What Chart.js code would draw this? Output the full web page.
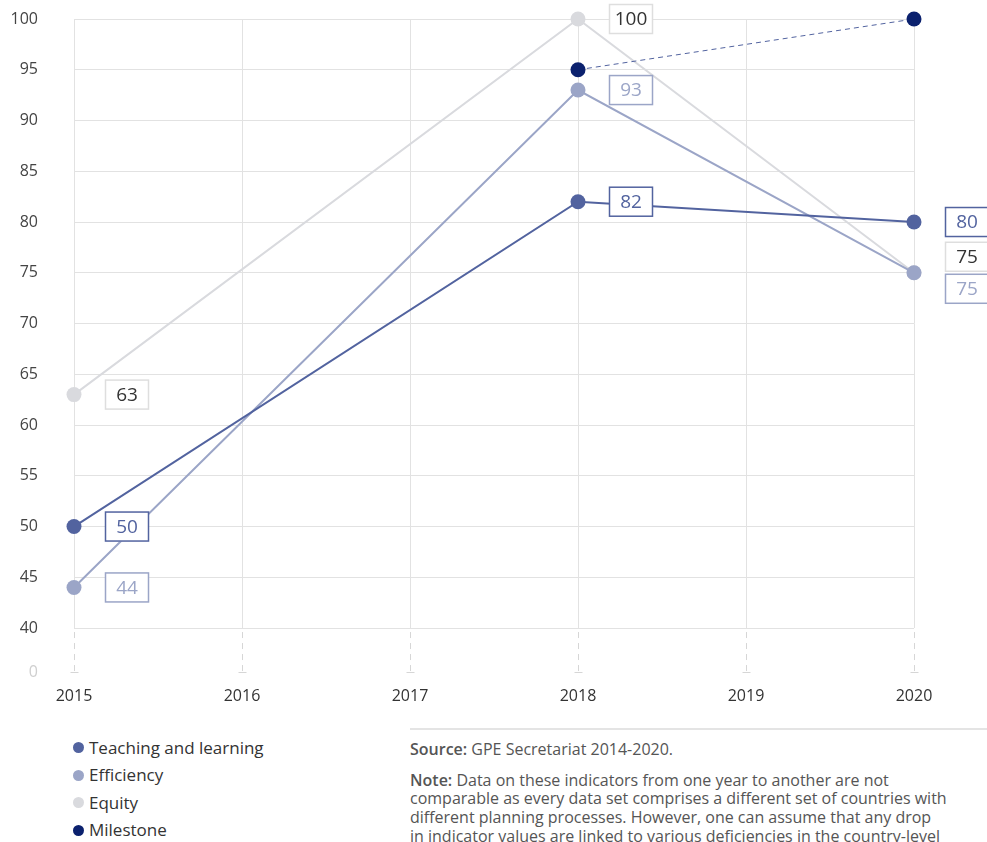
<!DOCTYPE html>
<html>
<head>
<meta charset="utf-8">
<script src="https://cdn.jsdelivr.net/npm/chart.js@4.4.1/dist/chart.umd.min.js"></script>
<style>
  html, body { margin: 0; padding: 0; background: #fff; }
  body { width: 987px; height: 842px; overflow: hidden; position: relative; font-family: "Open Sans", "DejaVu Sans", sans-serif; color: #333; }
  #chartBox { position: absolute; left: 0; top: 0; width: 987px; height: 717px; }
  #legend { position: absolute; left: 73px; top: 734px; list-style: none; margin: 0; padding: 0; font-size: 17px; color: #333; }
  #legend li { height: 27.5px; line-height: 22px; display: flex; align-items: center; }
  #legend .dot { width: 11px; height: 11px; border-radius: 50%; margin-right: 5px; display: inline-block; }
  #notes { position: absolute; left: 410px; top: 728px; width: 600px; border-top: 2px solid #e4e4e4; font-size: 16px; color: #555; }
  #notes p { margin: 0; line-height: 18.7px; white-space: nowrap; }
  #notes .src { margin-top: 10px; }
  #notes .note { margin-top: 12px; }
  #notes b { font-weight: 600; }
</style>
</head>
<body>
<div id="chartBox"><canvas id="gpeChart"></canvas></div>
<ul id="legend"></ul>
<div id="notes">
  <p class="src"><b>Source:</b> GPE Secretariat 2014-2020.</p>
  <p class="note"><b>Note:</b> Data on these indicators from one year to another are not<br>
  comparable as every data set comprises a different set of countries with<br>
  different planning processes. However, one can assume that any drop<br>
  in indicator values are linked to various deficiencies in the country-level</p>
</div>
<script>
// Values per reporting year
const years = [2015, 2018, 2020];
const teaching = [50, 82, 80];
const efficiency = [44, 93, 75];
const equity = [63, 100, 75];
const milestoneYears = [2018, 2020];
const milestone = [95, 100];
const yTicks = [40, 45, 50, 55, 60, 65, 70, 75, 80, 85, 90, 95, 100];
const xTicks = [2015, 2016, 2017, 2018, 2019, 2020];

// Axis break: the bottom of the scale stands for zero
const Y_BREAK = 35.67;

const COLORS = {
    teaching: '#52639f',
    efficiency: '#9ba5c7',
    equity: '#d9dade',
    milestone: '#0b216e'
};

function toPoints(xs, ys) {
    return xs.map((x, i) => ({ x: x, y: ys[i] }));
}

// Vertical grid: solid above 40, dashed through the axis break
const yearGrid = {
    id: 'yearGrid',
    beforeDatasetsDraw(chart) {
        const ctx = chart.ctx;
        const xs = chart.scales.x, ys = chart.scales.y;
        const top = ys.getPixelForValue(100);
        const y40 = ys.getPixelForValue(40);
        const bottom = ys.getPixelForValue(Y_BREAK);
        ctx.save();
        ctx.lineWidth = 1;
        xTicks.forEach(yr => {
            const x = Math.round(xs.getPixelForValue(yr)) + 0.5;
            ctx.strokeStyle = '#e2e2e2';
            ctx.setLineDash([]);
            ctx.beginPath();
            ctx.moveTo(x, top);
            ctx.lineTo(x, y40);
            ctx.stroke();
            ctx.strokeStyle = '#d6d6d6';
            ctx.setLineDash([6, 5]);
            ctx.beginPath();
            ctx.moveTo(x, y40 + 4);
            ctx.lineTo(x, bottom);
            ctx.stroke();
            ctx.setLineDash([]);
            ctx.beginPath();
            ctx.moveTo(x - 4, bottom + 0.5);
            ctx.lineTo(x + 4, bottom + 0.5);
            ctx.stroke();
        });
        ctx.restore();
    }
};

// Boxed value labels to the right of each point
const valueBoxes = {
    id: 'valueBoxes',
    afterDatasetsDraw(chart) {
        const ctx = chart.ctx;
        ctx.save();
        ctx.font = '19px "Open Sans", sans-serif';
        ctx.textAlign = 'center';
        ctx.textBaseline = 'middle';
        [2, 1, 0].forEach(di => {
            const ds = chart.data.datasets[di];
            const meta = chart.getDatasetMeta(di);
            meta.data.forEach((pt, i) => {
                const shift = (ds.labelShift && ds.labelShift[i]) || 0;
                const w = 44, h = 30;
                const left = pt.x + 31;
                const cy = pt.y + shift;
                ctx.fillStyle = '#fff';
                ctx.fillRect(left, cy - h / 2, w, h);
                ctx.strokeStyle = ds.boxColor;
                ctx.lineWidth = 1.5;
                ctx.strokeRect(left + 0.5, cy - h / 2 + 0.5, w - 1, h - 1);
                ctx.fillStyle = ds.textColor;
                ctx.fillText(String(ds.data[i].y), left + w / 2, cy + 1);
            });
        });
        ctx.restore();
    }
};

const datasets = [
    {
        label: 'Teaching and learning',
        data: toPoints(years, teaching),
        borderColor: COLORS.teaching,
        backgroundColor: COLORS.teaching,
        boxColor: COLORS.teaching,
        textColor: COLORS.teaching,
        order: 1
    },
    {
        label: 'Efficiency',
        data: toPoints(years, efficiency),
        borderColor: COLORS.efficiency,
        backgroundColor: COLORS.efficiency,
        boxColor: COLORS.efficiency,
        textColor: COLORS.efficiency,
        labelShift: [0, 0, 16],
        order: 2
    },
    {
        label: 'Equity',
        data: toPoints(years, equity),
        borderColor: COLORS.equity,
        backgroundColor: COLORS.equity,
        boxColor: '#dedede',
        textColor: '#333',
        labelShift: [0, 0, -16],
        order: 3
    },
    {
        label: 'Milestone',
        data: toPoints(milestoneYears, milestone),
        borderColor: COLORS.teaching,
        backgroundColor: COLORS.milestone,
        borderWidth: 1,
        borderDash: [5, 4],
        order: 0
    }
];

datasets.forEach(ds => {
    ds.pointRadius = 7.5;
    ds.pointBorderWidth = 0;
    ds.pointBackgroundColor = ds.backgroundColor;
    ds.borderWidth = ds.borderWidth || 2;
    ds.clip = false;
});

const chart = new Chart(document.getElementById('gpeChart'), {
    type: 'line',
    data: { datasets: datasets },
    options: {
        responsive: true,
        maintainAspectRatio: false,
        animation: false,
        layout: { padding: { top: 19, right: 73, left: 0, bottom: 0 } },
        font: { family: '"Open Sans", sans-serif' },
        plugins: {
            legend: { display: false },
            tooltip: { enabled: false }
        },
        scales: {
            x: {
                type: 'linear',
                min: 2015,
                max: 2020,
                afterBuildTicks: scale => { scale.ticks = xTicks.map(v => ({ value: v })); },
                afterFit: scale => {
                    scale.height = 45;
                    scale.paddingLeft = 0;
                    scale.paddingRight = 0;
                },
                grid: { display: false },
                border: { display: false },
                ticks: {
                    padding: 7,
                    color: '#333',
                    font: { size: 16, family: '"Open Sans", sans-serif' },
                    callback: v => String(v)
                }
            },
            y: {
                min: Y_BREAK,
                max: 100,
                afterBuildTicks: scale => {
                    scale.ticks = [{ value: Y_BREAK }].concat(yTicks.map(v => ({ value: v })));
                },
                afterFit: scale => {
                    scale.width = 74;
                    scale.paddingTop = 0;
                    scale.paddingBottom = 0;
                },
                grid: {
                    drawTicks: false,
                    color: ctx => (ctx.tick && ctx.tick.value === Y_BREAK) ? 'rgba(0,0,0,0)' : '#e2e2e2',
                    lineWidth: 1
                },
                border: { display: false },
                ticks: {
                    padding: 36,
                    color: ctx => (ctx.tick && ctx.tick.value === Y_BREAK) ? '#cfcfcf' : '#444',
                    font: { size: 16, family: '"Open Sans", sans-serif' },
                    callback: v => (v === Y_BREAK ? '0' : String(v))
                }
            }
        }
    },
    plugins: [yearGrid, valueBoxes]
});

// Legend list under the chart
const legendEl = document.getElementById('legend');
[
    ['Teaching and learning', COLORS.teaching],
    ['Efficiency', COLORS.efficiency],
    ['Equity', COLORS.equity],
    ['Milestone', COLORS.milestone]
].forEach(([name, color]) => {
    const li = document.createElement('li');
    li.innerHTML = `<span class="dot" style="background:${color}"></span>${name}`;
    legendEl.appendChild(li);
});
</script>
</body>
</html>
